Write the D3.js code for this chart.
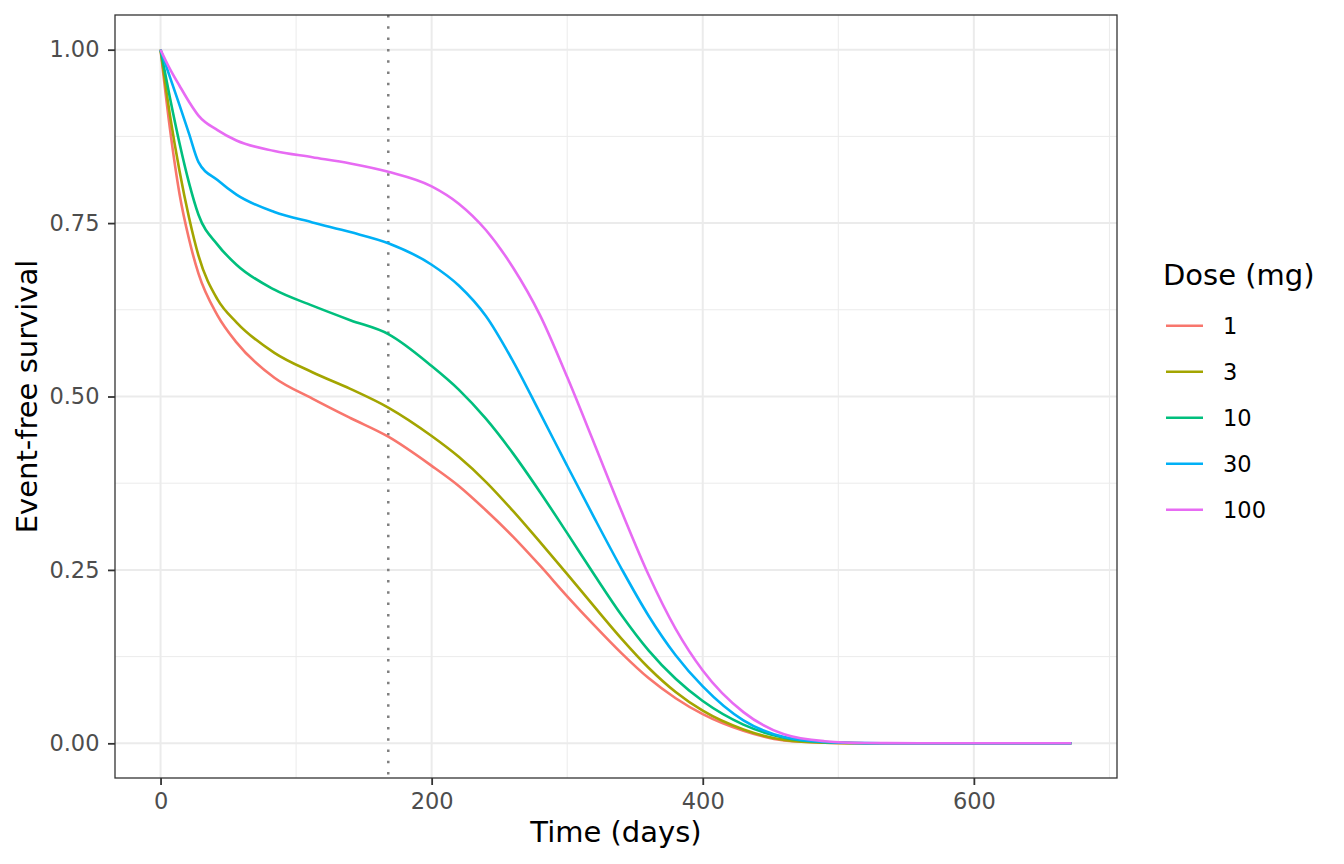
<!DOCTYPE html>
<html>
<head>
<meta charset="utf-8">
<script src="https://cdn.jsdelivr.net/npm/d3@7"></script>
<style>
  body { margin: 0; background: #ffffff; }
  text { font-family: "DejaVu Sans", sans-serif; }
</style>
</head>
<body>
<div id="chart"></div>
<script>
// time grid (days) and event-free survival per dose
const days = [0, 7, 14, 21, 28, 42, 56, 84, 112, 140, 168, 200, 220, 240, 260, 280, 300, 320, 340, 360, 380, 400, 430, 460, 490, 520, 560, 600, 672];

const surv_1mg   = [1, 0.885, 0.792, 0.727, 0.677, 0.617, 0.578, 0.527, 0.497, 0.469, 0.442, 0.400, 0.371, 0.336, 0.298, 0.256, 0.212, 0.170, 0.130, 0.094, 0.065, 0.042, 0.018, 0.004, 0.0008, 0.0001, 0, 0, 0];
const surv_3mg   = [1, 0.905, 0.825, 0.758, 0.703, 0.640, 0.607, 0.563, 0.535, 0.511, 0.484, 0.443, 0.413, 0.377, 0.335, 0.290, 0.244, 0.197, 0.151, 0.109, 0.074, 0.047, 0.020, 0.005, 0.001, 0.0001, 0, 0, 0];
const surv_10mg  = [1, 0.930, 0.865, 0.808, 0.762, 0.719, 0.690, 0.654, 0.631, 0.610, 0.590, 0.544, 0.510, 0.468, 0.418, 0.362, 0.303, 0.243, 0.185, 0.134, 0.093, 0.061, 0.027, 0.008, 0.0015, 0.0002, 0, 0, 0];
const surv_30mg  = [1, 0.960, 0.920, 0.879, 0.838, 0.812, 0.791, 0.766, 0.751, 0.737, 0.721, 0.690, 0.660, 0.616, 0.551, 0.476, 0.400, 0.325, 0.252, 0.184, 0.127, 0.082, 0.033, 0.009, 0.002, 0.0003, 0, 0, 0];
const surv_100mg = [1, 0.972, 0.948, 0.925, 0.905, 0.884, 0.869, 0.854, 0.845, 0.836, 0.824, 0.803, 0.778, 0.740, 0.686, 0.617, 0.528, 0.432, 0.335, 0.243, 0.165, 0.105, 0.045, 0.013, 0.003, 0.0004, 0.0001, 0, 0];

const doses = ["1", "3", "10", "30", "100"];
const doseColors = ["#F8766D", "#A3A500", "#00BF7D", "#00B0F6", "#E76BF3"];
const refDay = 168;

const xTicks = [0, 200, 400, 600];
const xMinor = [100, 300, 500, 700];
const yTicks = [0, 0.25, 0.5, 0.75, 1];
const yMinor = [0.125, 0.375, 0.625, 0.875];

const series = [surv_1mg, surv_3mg, surv_10mg, surv_30mg, surv_100mg].map((vals, i) => ({
  dose: doses[i],
  color: doseColors[i],
  points: days.map((d, j) => ({t: d, s: vals[j]}))
}));

const W = 1344, H = 864;
const margin = {top: 15, right: 227, bottom: 86, left: 115};
const width = W - margin.left - margin.right;
const height = H - margin.top - margin.bottom;

const svg = d3.select("#chart").append("svg")
  .attr("width", W)
  .attr("height", H);

const g = svg.append("g")
  .attr("transform", `translate(${margin.left},${margin.top})`);

// ggplot style 5% expansion
const tMax = d3.max(days);
const xScale = d3.scaleLinear()
  .domain([-0.05 * tMax, 1.05 * tMax])
  .range([0, width]);

const yScale = d3.scaleLinear()
  .domain([-0.05, 1.05])
  .range([height, 0]);

// grid lines
g.append("g").selectAll("line")
  .data(xMinor.filter(v => v <= xScale.domain()[1]))
  .join("line")
  .attr("x1", d => xScale(d)).attr("x2", d => xScale(d))
  .attr("y1", 0).attr("y2", height)
  .attr("stroke", "#EBEBEB").attr("stroke-width", 1);

g.append("g").selectAll("line")
  .data(yMinor)
  .join("line")
  .attr("x1", 0).attr("x2", width)
  .attr("y1", d => yScale(d)).attr("y2", d => yScale(d))
  .attr("stroke", "#EBEBEB").attr("stroke-width", 1);

g.append("g").selectAll("line")
  .data(xTicks)
  .join("line")
  .attr("x1", d => xScale(d)).attr("x2", d => xScale(d))
  .attr("y1", 0).attr("y2", height)
  .attr("stroke", "#EBEBEB").attr("stroke-width", 2);

g.append("g").selectAll("line")
  .data(yTicks)
  .join("line")
  .attr("x1", 0).attr("x2", width)
  .attr("y1", d => yScale(d)).attr("y2", d => yScale(d))
  .attr("stroke", "#EBEBEB").attr("stroke-width", 2);

// reference line at 24 weeks
g.append("line")
  .attr("x1", xScale(refDay)).attr("x2", xScale(refDay))
  .attr("y1", 0).attr("y2", height)
  .attr("stroke", "#7F7F7F")
  .attr("stroke-width", 2.5)
  .attr("stroke-dasharray", "2.5,8.8");

// survival curves
const line = d3.line()
  .x(d => xScale(d.t))
  .y(d => yScale(d.s))
  .curve(d3.curveMonotoneX);

g.append("g").selectAll("path")
  .data(series)
  .join("path")
  .attr("d", d => line(d.points))
  .attr("fill", "none")
  .attr("stroke", d => d.color)
  .attr("stroke-width", 2.6);

// panel border
g.append("rect")
  .attr("width", width).attr("height", height)
  .attr("fill", "none")
  .attr("stroke", "#333333")
  .attr("stroke-width", 1.3);

// axes
const xAxis = g.append("g")
  .attr("transform", `translate(0,${height})`)
  .call(d3.axisBottom(xScale).tickValues(xTicks).tickSize(7).tickPadding(8));

const yAxis = g.append("g")
  .call(d3.axisLeft(yScale).tickValues(yTicks).tickFormat(d3.format(".2f")).tickSize(7).tickPadding(8.5));

[xAxis, yAxis].forEach(ax => {
  ax.select(".domain").remove();
  ax.selectAll(".tick line").attr("stroke", "#333333").attr("stroke-width", 1.8);
  ax.selectAll(".tick text")
    .attr("fill", "#4D4D4D")
    .style("font-size", "22.5px")
    .style("font-family", "DejaVu Sans");
});

// axis titles
svg.append("text")
  .attr("x", margin.left + width / 2)
  .attr("y", 842)
  .attr("text-anchor", "middle")
  .style("font-size", "29px")
  .text("Time (days)");

svg.append("text")
  .attr("transform", `translate(37,${margin.top + height / 2}) rotate(-90)`)
  .attr("text-anchor", "middle")
  .style("font-size", "29px")
  .text("Event-free survival");

// legend
const legend = svg.append("g")
  .attr("transform", "translate(1163,0)");

legend.append("text")
  .attr("x", 0)
  .attr("y", 285)
  .style("font-size", "29px")
  .text("Dose (mg)");

const items = legend.selectAll(".item")
  .data(series)
  .join("g")
  .attr("class", "item")
  .attr("transform", (d, i) => `translate(0,${325.7 + i * 46})`);

items.append("line")
  .attr("x1", 3).attr("x2", 40)
  .attr("stroke", d => d.color)
  .attr("stroke-width", 2.6);

items.append("text")
  .attr("x", 60)
  .attr("dy", "0.36em")
  .style("font-size", "22.5px")
  .text(d => d.dose);
</script>
</body>
</html>
